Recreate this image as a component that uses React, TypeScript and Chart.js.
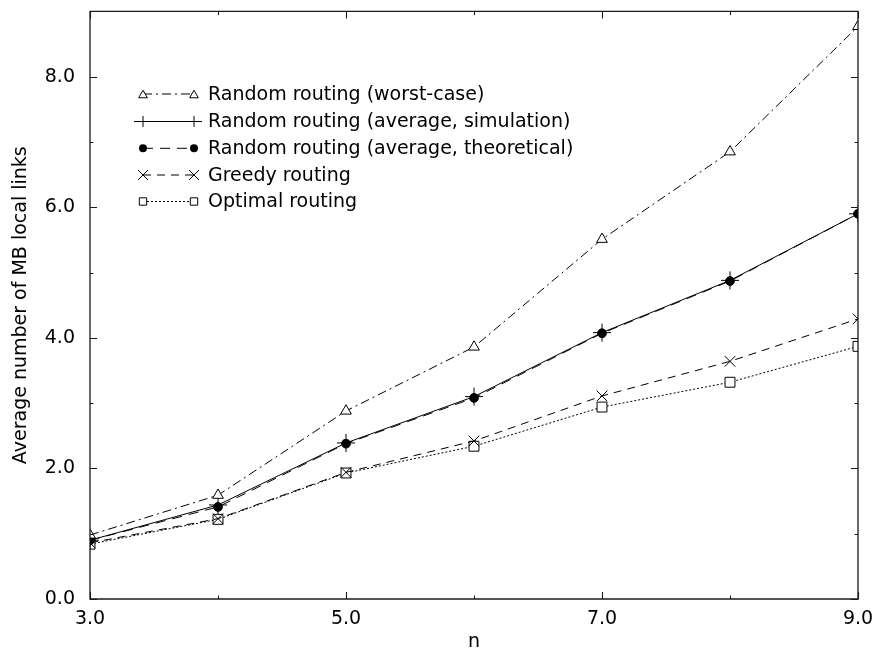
import React, { useEffect, useRef } from "react";
import { Chart, registerables } from "chart.js";

Chart.register(...registerables);

// ---- data ----
const nValues = [3, 4, 5, 6, 7, 8, 9];
const worstCase = [0.98, 1.59, 2.88, 3.86, 5.51, 6.85, 8.77];
const avgSimulation = [0.9, 1.44, 2.39, 3.1, 4.08, 4.88, 5.9];
const avgTheoretical = [0.9, 1.41, 2.38, 3.08, 4.07, 4.87, 5.9];
const greedy = [0.86, 1.23, 1.94, 2.42, 3.11, 3.64, 4.29];
const optimal = [0.84, 1.22, 1.93, 2.34, 2.94, 3.32, 3.87];

const seriesLabels = [
  "Random routing (worst-case)",
  "Random routing (average, simulation)",
  "Random routing (average, theoretical)",
  "Greedy routing",
  "Optimal routing",
];

const xTitle = "n";
const yTitle = "Average number of MB local links";

const FONT_FAMILY = "'DejaVu Sans', 'Liberation Sans', Arial, sans-serif";
const FONT_SIZE = 19;

type Style = {
  marker: string;
  radius: number;
  legendRadius: number;
  fill: string;
  dash: number[];
};

const styles: Style[] = [
  { marker: "triangle", radius: 6.2, legendRadius: 5, fill: "#fff", dash: [9, 4, 2, 4] },
  { marker: "cross", radius: 9, legendRadius: 5.5, fill: "#000", dash: [] },
  { marker: "circle", radius: 4.4, legendRadius: 4, fill: "#000", dash: [10, 7] },
  { marker: "crossRot", radius: 7.5, legendRadius: 7, fill: "#000", dash: [8, 6] },
  { marker: "rect", radius: 7, legendRadius: 5.2, fill: "#fff", dash: [2, 2] },
];

const seriesValues = [worstCase, avgSimulation, avgTheoretical, greedy, optimal];

function drawMarker(ctx: CanvasRenderingContext2D, kind: string, x: number, y: number, r: number, fill: string) {
  ctx.save();
  ctx.setLineDash([]);
  ctx.strokeStyle = "#000";
  ctx.lineWidth = 1;
  ctx.fillStyle = fill;
  ctx.beginPath();
  if (kind === "triangle") {
    for (let i = 0; i < 3; i++) {
      const a = -Math.PI / 2 + (i * 2 * Math.PI) / 3;
      const px = x + Math.cos(a) * r;
      const py = y + Math.sin(a) * r + r * 0.25;
      if (i === 0) ctx.moveTo(px, py);
      else ctx.lineTo(px, py);
    }
    ctx.closePath();
    ctx.fill();
    ctx.stroke();
  } else if (kind === "rect") {
    const s = r * Math.SQRT1_2;
    ctx.rect(x - s, y - s, 2 * s, 2 * s);
    ctx.fill();
    ctx.stroke();
  } else if (kind === "circle") {
    ctx.arc(x, y, r, 0, Math.PI * 2);
    ctx.fill();
  } else if (kind === "crossRot") {
    const d = r * Math.SQRT1_2;
    ctx.moveTo(x - d, y - d);
    ctx.lineTo(x + d, y + d);
    ctx.moveTo(x - d, y + d);
    ctx.lineTo(x + d, y - d);
    ctx.stroke();
  } else if (kind === "cross") {
    ctx.moveTo(x - r, y);
    ctx.lineTo(x + r, y);
    ctx.moveTo(x, y - r);
    ctx.lineTo(x, y + r);
    ctx.stroke();
  } else if (kind === "errbar") {
    ctx.moveTo(x, y - r);
    ctx.lineTo(x, y + r);
    ctx.stroke();
  }
  ctx.restore();
}

const framePlugin = {
  id: "frame",
  afterDatasetsDraw(chart: any) {
    const { ctx, chartArea } = chart;
    const xs = chart.scales.x;
    const ys = chart.scales.y;
    const { left, right, top, bottom } = chartArea;
    ctx.save();
    ctx.strokeStyle = "#1a1a1a";
    ctx.lineWidth = 1.3;
    ctx.setLineDash([]);
    ctx.beginPath();
    ctx.rect(left, top, right - left, bottom - top);
    ctx.stroke();
    ctx.lineWidth = 1.1;
    ctx.beginPath();
    for (let v = 3; v <= 9; v++) {
      const len = (v - 3) % 2 === 0 ? 7 : 3.5;
      const px = Math.round(xs.getPixelForValue(v)) + 0.5;
      ctx.moveTo(px, bottom);
      ctx.lineTo(px, bottom - len);
      ctx.moveTo(px, top);
      ctx.lineTo(px, top + len);
    }
    for (let v = 0; v <= 9; v++) {
      const len = v % 2 === 0 ? 7 : 3.5;
      const py = Math.round(ys.getPixelForValue(v)) + 0.5;
      ctx.moveTo(left, py);
      ctx.lineTo(left + len, py);
      ctx.moveTo(right, py);
      ctx.lineTo(right - len, py);
    }
    ctx.stroke();
    ctx.restore();
  },
};

const legendPlugin = {
  id: "customLegend",
  afterDraw(chart: any) {
    const { ctx } = chart;
    const rows = [94, 121.5, 148.3, 175, 201.5];
    const x1 = 143;
    const x2 = 194;
    const textX = 208;
    ctx.save();
    ctx.font = `${FONT_SIZE}px ${FONT_FAMILY}`;
    ctx.textBaseline = "middle";
    ctx.textAlign = "left";
    seriesLabels.forEach((label, i) => {
      const st = styles[i];
      const y = rows[i];
      ctx.strokeStyle = "#000";
      ctx.lineWidth = 1;
      ctx.setLineDash(st.dash);
      ctx.beginPath();
      if (st.marker === "cross") {
        ctx.moveTo(x1 - 9, y);
        ctx.lineTo(x2 + 8, y);
      } else {
        ctx.moveTo(x1, y);
        ctx.lineTo(x2, y);
      }
      ctx.stroke();
      const kind = st.marker === "cross" ? "errbar" : st.marker;
      drawMarker(ctx, kind, x1, y, st.legendRadius, st.fill);
      drawMarker(ctx, kind, x2, y, st.legendRadius, st.fill);
      ctx.fillStyle = "#000";
      ctx.fillText(label, textX, y + 1);
    });
    ctx.restore();
  },
};

export default function App() {
  const canvasRef = useRef<HTMLCanvasElement | null>(null);

  useEffect(() => {
    document.body.style.margin = "0";
    const canvas = canvasRef.current;
    if (!canvas) return;
    const font = { family: FONT_FAMILY, size: FONT_SIZE };
    const datasets = seriesValues.map((vals, i) => {
      const st = styles[i];
      return {
        label: seriesLabels[i],
        data: nValues.map((n, k) => ({ x: n, y: vals[k] })),
        borderColor: "#000",
        borderWidth: 1,
        borderDash: st.dash,
        fill: false,
        tension: 0,
        pointStyle: st.marker,
        pointRadius: st.radius,
        pointHoverRadius: st.radius,
        pointBackgroundColor: st.fill,
        pointBorderColor: "#000",
        pointBorderWidth: 1,
      };
    });
    const chart = new Chart(canvas, {
      type: "line",
      data: { datasets },
      options: {
        animation: false,
        responsive: false,
        devicePixelRatio: 1,
        layout: { padding: { left: 0, right: 18, top: 11, bottom: 0 } },
        plugins: {
          legend: { display: false },
          tooltip: { enabled: false },
        },
        scales: {
          x: {
            type: "linear",
            min: 3,
            max: 9,
            grid: { display: false, drawTicks: true, tickLength: 9 },
            border: { display: false },
            ticks: {
              stepSize: 2,
              includeBounds: false,
              autoSkip: false,
              maxRotation: 0,
              padding: 0,
              color: "#000",
              font,
              callback: (v: any) => Number(v).toFixed(1),
            },
            title: {
              display: true,
              text: xTitle,
              color: "#000",
              font,
              padding: { top: 0, bottom: 4 },
            },
            afterFit: (s: any) => {
              s.height = 58;
            },
          },
          y: {
            type: "linear",
            min: 0,
            max: 9,
            grid: { display: false, drawTicks: true, tickLength: 15 },
            border: { display: false },
            ticks: {
              stepSize: 2,
              includeBounds: false,
              autoSkip: false,
              padding: 0,
              color: "#000",
              font,
              callback: (v: any) => Number(v).toFixed(1),
            },
            title: {
              display: true,
              text: yTitle,
              color: "#000",
              font,
              padding: { top: 10, bottom: 0 },
            },
            afterFit: (s: any) => {
              s.width = 90;
            },
          },
        },
      } as any,
      plugins: [framePlugin, legendPlugin],
    });
    return () => chart.destroy();
  }, []);

  return (
    <div style={{ width: 876, height: 657 }}>
      <canvas ref={canvasRef} width={876} height={657} style={{ display: "block" }} />
    </div>
  );
}
